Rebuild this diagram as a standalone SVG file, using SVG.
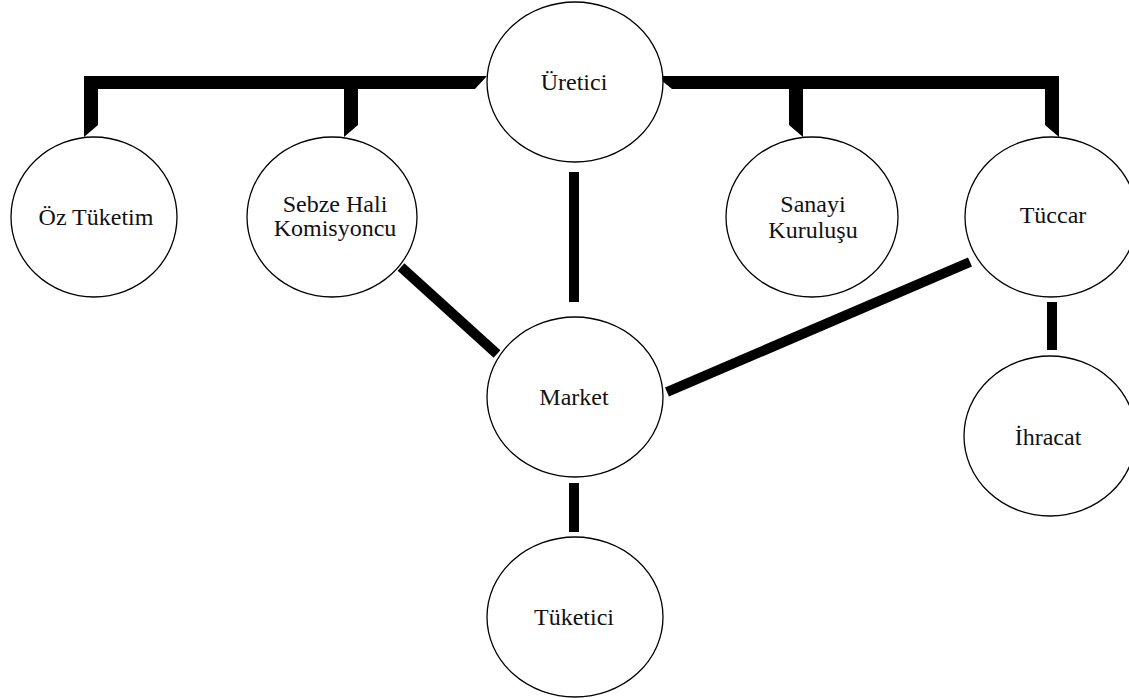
<svg xmlns="http://www.w3.org/2000/svg" width="1129" height="698" viewBox="0 0 1129 698">
<style>
.n ellipse{fill:#fff;stroke:#000;stroke-width:1.3}
.n text{font-family:"Liberation Serif","Times New Roman",serif;font-size:24px;fill:#111;text-anchor:middle}
.c line{stroke:#000;stroke-width:10}
.c polygon{fill:#000}
</style>
<rect width="1129" height="698" fill="#fff"/>
<g class="c" id="connectors">
<polygon points="84,76 487,76 475,89 358,89 358,125 344,137 344,89 98,89 98,125 84,137"/>
<polygon points="656,76 1059,76 1059,137 1045,125 1045,89 803,89 803,137 789,125 789,89 672,89"/>
<line x1="574" y1="172" x2="574" y2="302"/>
<line x1="401" y1="267" x2="497" y2="354"/>
<line x1="667" y1="392" x2="970" y2="262"/>
<line x1="1052" y1="302" x2="1052" y2="350"/>
<line x1="574" y1="483" x2="574" y2="532"/>
</g>
<g class="n" id="uretici"><ellipse cx="575" cy="82" rx="88" ry="80"/><text x="574" y="90">Üretici</text></g>
<g class="n" id="oz-tuketim"><ellipse cx="94" cy="217" rx="83" ry="80"/><text x="96" y="225">Öz Tüketim</text></g>
<g class="n" id="sebze-hali"><ellipse cx="332" cy="217" rx="85" ry="80"/><text x="335" y="212">Sebze Hali</text><text x="335" y="236">Komisyoncu</text></g>
<g class="n" id="sanayi"><ellipse cx="812" cy="217" rx="86" ry="80"/><text x="813" y="212">Sanayi</text><text x="813" y="238">Kuruluşu</text></g>
<g class="n" id="tuccar"><ellipse cx="1051" cy="217" rx="86" ry="80"/><text x="1053" y="223">Tüccar</text></g>
<g class="n" id="market"><ellipse cx="575" cy="397" rx="88" ry="80"/><text x="574" y="405">Market</text></g>
<g class="n" id="ihracat"><ellipse cx="1050" cy="436" rx="86" ry="80"/><text x="1048" y="445">İhracat</text></g>
<g class="n" id="tuketici"><ellipse cx="575" cy="617" rx="88" ry="80"/><text x="574" y="625">Tüketici</text></g>
</svg>
